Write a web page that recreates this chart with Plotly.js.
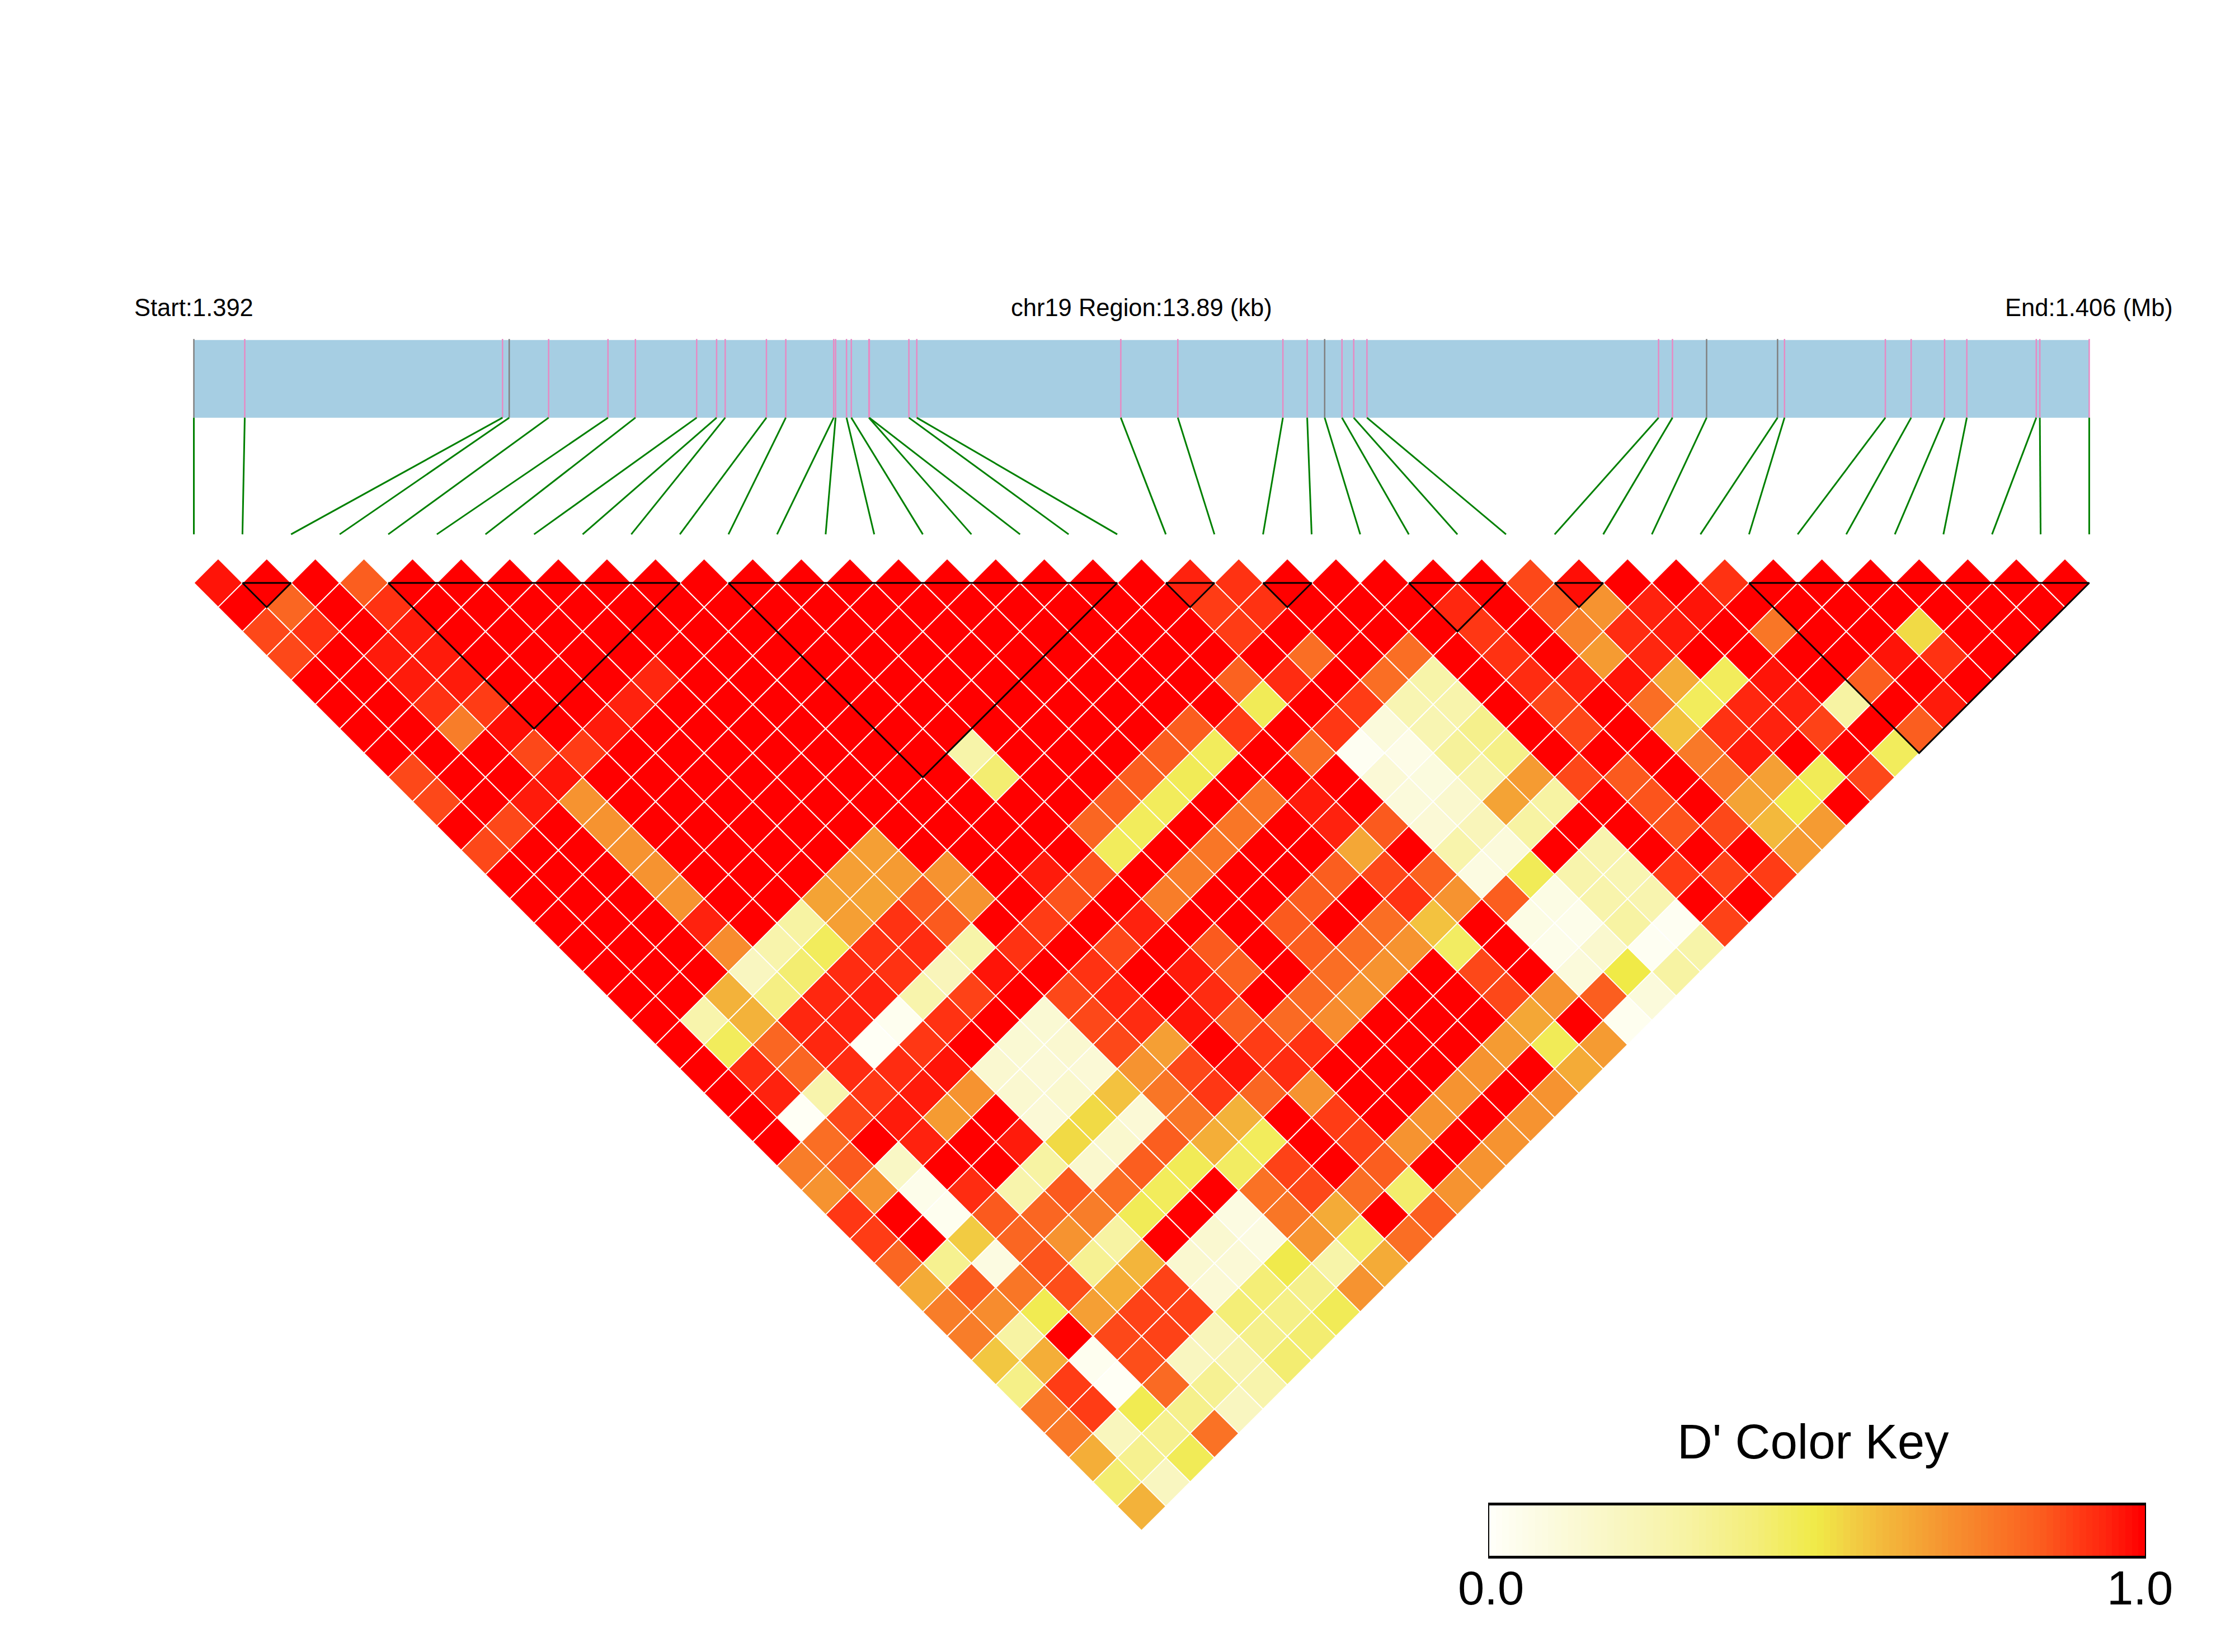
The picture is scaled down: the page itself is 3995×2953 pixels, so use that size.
<!DOCTYPE html>
<html><head><meta charset="utf-8">
<script src="https://cdn.plot.ly/plotly-3.0.1.min.js"></script>
<style>html,body{margin:0;padding:0;background:#fff}</style></head>
<body><div id="plot" style="width:3995px;height:2953px"></div>
<script>
// SNP positions along the region, kb from the region start
const snpPosKb = [0,.373,2.262,2.311,2.600,3.035,3.236,3.685,3.831,3.894,4.196,4.338,4.689,4.703,4.783,4.818,4.947,4.950,5.240,5.298,
  6.793,7.211,7.981,8.159,8.287,8.414,8.500,8.597,10.734,10.836,11.086,11.606,11.657,12.396,12.585,12.830,12.993,13.502,13.528,13.890];
const regionKb = 13.89;
const greySnps = [0,3,24,30,31];
// LD blocks as [first SNP, last SNP]
const ldBlocks = [[1,2],[4,10],[11,19],[20,21],[22,23],[25,27],[28,29],[32,39]];
// D' values: ldRows[k][p] is the pair of SNP p and SNP p+k+1
const ldRows = [
[.97,1,1,.84,1,1,1,1,1,1,1,1,1,1,1,1,1,1,1,1,.95,.92,1,1,1,1,1,.88,.98,1,1,.92,1,1,1,1,1,1,1],
[1,.82,1,.92,1,1,1,1,1,1,1,1,1,1,1,1,1,1,1,1,.90,.92,1,1,1,.94,1,.85,.70,.95,.97,1,1,1,1,1,1,1],
[.88,.92,1,.96,1,1,1,1,1,1,1,1,1,1,1,1,1,1,1,1,.9,1,1,1,1,.91,1,.75,.93,.96,1,.78,1,1,.53,1,1],
[.88,1,.96,.96,1,1,1,1,1,1,1,1,1,1,1,1,1,1,1,1,1,.8,1,.8,1,.92,1,.68,.94,1,1,1,1,.97,.92,1],
[1,1,.96,.96,1,1,1,.94,1,1,1,1,1,1,1,1,1,1,1,.83,.93,1,.8,.28,1,.93,.95,.97,.64,.46,.97,1,.84,1,1],
[1,1,.92,.9,1,1,.95,1,1,1,1,1,1,1,1,1,1,1,1,.47,1,.9,.25,.27,1,.88,1,.8,.46,.94,.95,.3,1,.96],
[1,1,.76,.98,1,.96,1,1,1,1,1,1,1,1,1,1,1,.84,.9,1,.91,.1,.25,.36,1,.88,1,.58,.92,.95,.89,1,.84],
[1,1,1,.88,.9,1,1,1,1,1,1,1,.28,1,1,1,.84,.46,1,.8,.02,.06,.32,.37,1,1,1,.77,.96,1,1,.46],
[.88,1,1,.97,1,1,1,1,1,1,1,1,.42,1,1,.84,.47,1,1,1,.12,.09,.27,.68,.88,.85,1,.78,.67,.47,.88],
[.88,1,.96,.7,1,1,1,1,1,1,1,1,1,1,.84,.46,1,.78,.96,1,.1,.15,.66,.3,1,.86,1,.66,.49,1],
[1,.88,1,.7,1,1,1,1,1,1,1,1,1,.82,.46,1,.78,1,.95,.85,.12,.22,.3,1,1,.86,.88,.6,.68],
[.88,1,1,.7,1,1,1,1,.67,1,1,1,1,.46,1,.78,1,1,.65,1,.27,.1,1,.26,1,1,1,.68],
[1,1,1,.7,1,1,1,.67,.68,.7,1,.96,.86,1,.76,1,1,.84,.88,.83,.08,.47,.27,.25,.9,.89,.9],
[1,1,1,.7,1,1,.66,.66,.85,.7,1,.86,1,.76,1,1,.84,1,.92,.7,.84,.07,.27,.26,1,1],
[1,1,1,.95,1,.3,.67,.92,.85,1,.9,1,.95,1,1,.85,1,.8,.58,1,.07,.05,.3,.02,.89],
[1,1,1,.72,.27,.46,.92,.93,.28,.92,1,.88,1,.85,1,.84,.8,.7,.45,1,.05,.15,.02,.28],
[1,1,1,.2,.42,.93,.92,.22,.97,1,.92,1,.96,.83,1,.8,.7,1,.88,1,.1,.5,.3],
[1,1,.62,.38,.94,.95,.27,.89,1,.88,.94,1,.93,1,.81,.7,1,1,.88,.7,.84,.1],
[1,.27,.62,.94,.95,.03,.92,1,.13,.88,.93,.97,.84,.81,.72,1,1,1,.65,1,.03],
[1,.46,.82,.94,.01,.91,1,.13,.14,.88,.67,1,.9,.92,1,1,1,.68,.47,.68],
[1,.93,.82,.93,.93,.97,.14,.12,.12,.7,.88,.97,.93,1,1,1,.7,1,.64],
[1,.95,.27,.91,.96,.7,.14,.15,.58,.78,.91,.82,.7,1,1,.7,1,.7],
[1,.01,.88,.96,.68,1,.12,.53,.12,.78,.62,1,.9,1,.7,1,.7],
[1,.8,1,.95,1,.96,.53,.15,.84,.63,.46,1,.89,.7,1,.7],
[.76,.85,.18,1,1,.3,.15,.84,.47,.45,.89,1,.84,1,.7],
[.7,.7,.05,.93,.27,.85,.8,.46,1,.79,.88,.8,.43,.7],
[.91,1,.03,.85,.82,.76,.47,1,.08,.78,.64,1,.84],
[.9,1,.56,.82,.7,.3,1,.14,.08,.7,.43,.8],
[.82,.35,.08,.86,.34,.61,.14,.12,.49,.28,.64],
[.64,.84,.78,.87,.63,.89,.12,.41,.36,.7],
[.76,.72,.48,.67,.89,.89,.41,.37,.47],
[.76,.3,1,.88,.89,.22,.36,.42],
[.57,.63,.03,.87,.2,.26,.42],
[.37,.9,.01,.81,.34,.27],
[.77,.9,.48,.36,.2],
[.77,.21,.35,.79],
[.63,.35,.47],
[.42,.2],
[.62]
];
const colorStops = [[0,'#FFFFF8'],[.1,'#FBFADB'],[.2,'#F9F6C0'],[.3,'#F7F3A3'],[.4,'#F4EE7C'],[.5,'#F0EA47'],[.55,'#F2D044'],[.6,'#F3B93C'],
  [.65,'#F4A736'],[.7,'#F69330'],[.75,'#F8812A'],[.8,'#FA6E24'],[.85,'#FB5A1E'],[.9,'#FF3C15'],[.95,'#FF220E'],[1,'#FF0000']];
const keyTicks = ['0.0','1.0'];
const labels = {start:'Start:1.392', mid:'chr19 Region:13.89 (kb)', end:'End:1.406 (Mb)', key:"D' Color Key"};

const hex = c => [1,3,5].map(i => parseInt(c.substr(i,2),16));
function colorOf(v){
  for(let i=1;i<colorStops.length;i++){
    if(v<=colorStops[i][0]){
      const [a,ca]=colorStops[i-1],[b,cb]=colorStops[i],t=(v-a)/(b-a),A=hex(ca),B=hex(cb);
      return 'rgb('+A.map((x,j)=>Math.round(x+(B[j]-x)*t)).join(',')+')';
    }
  }
  return '#FF0000';
}
const nSnp = snpPosKb.length, last = nSnp-1;
const traces = [];
// gene region bar
const barTop=5.0, barBot=3.4, connBot=1.0;
traces.push({x:[0,last,last,0,0],y:[barBot,barBot,barTop,barTop,barBot],mode:'lines',fill:'toself',fillcolor:'#A6CEE3',line:{width:0},hoverinfo:'skip'});
// SNP ticks and connectors
const tick = (idx,col)=>{const x=[],y=[];idx.forEach(i=>{const u=snpPosKb[i]/regionKb*last;x.push(u,u,null);y.push(barBot,barTop+.02,null);});
  traces.push({x,y,mode:'lines',line:{color:col,width:2.5},hoverinfo:'skip'});};
const all=[...Array(nSnp).keys()];
tick(all.filter(i=>!greySnps.includes(i)),'#E78AC3');
tick(greySnps,'#808080');
{const x=[],y=[];all.forEach(i=>{x.push(snpPosKb[i]/regionKb*last,i,null);y.push(barBot,connBot,null);});
 traces.push({x,y,mode:'lines',line:{color:'#008000',width:3},hoverinfo:'skip'});}
// LD cells grouped by value
const groups=new Map();
ldRows.forEach((row,k)=>row.forEach((v,p)=>{
  const cx=p+.5+k/2, cy=-k/2;
  if(!groups.has(v))groups.set(v,{x:[],y:[]});
  const g=groups.get(v);
  g.x.push(cx-.5,cx,cx+.5,cx,cx-.5,null);
  g.y.push(cy,cy+.5,cy,cy-.5,cy,null);
}));
groups.forEach((g,v)=>traces.push({x:g.x,y:g.y,mode:'lines',fill:'toself',fillcolor:colorOf(v),line:{color:'#FFFFFF',width:1.8},hoverinfo:'skip',name:String(v)}));
// LD blocks
{const x=[],y=[];ldBlocks.forEach(([a,b])=>{x.push(a,b,(a+b)/2,a,null);y.push(0,0,-(b-a)/2,0,null);});
 traces.push({x,y,mode:'lines',line:{color:'#000000',width:3},hoverinfo:'skip'});}
// colour key
const keyVals=[...Array(100).keys()].map(i=>i/99);
const scale=colorStops.map(([v,c])=>[v,c]);
traces.push({type:'heatmap',x:keyVals.map((v,i)=>(i+.5)/100),y:[0],z:[keyVals],zmin:0,zmax:1,colorscale:scale,showscale:false,xaxis:'x2',yaxis:'y2',hoverinfo:'skip'});

const font='"Liberation Sans",Arial,sans-serif';
const W=3995,H=2953,U=86.87;
const anno=(text,x,size,y)=>({text,xref:'x',yref:'y',x,y:(1042-y)/U,showarrow:false,xanchor:'center',yanchor:'middle',font:{family:font,size,color:'#000'}});
const layout={width:W,height:H,margin:{l:0,r:0,t:0,b:0,pad:0},paper_bgcolor:'#fff',plot_bgcolor:'#fff',showlegend:false,
  xaxis:{visible:false,domain:[0,1],range:[-346.5/U,(W-346.5)/U],fixedrange:true},
  yaxis:{visible:false,domain:[0,1],range:[-(H-1042)/U,1042/U],fixedrange:true},
  xaxis2:{domain:[2662/W,3834/W],anchor:'y2',range:[0,1],showticklabels:false,ticks:'',showgrid:false,zeroline:false,showline:true,mirror:true,linecolor:'#000',linewidth:5,automargin:false},
  yaxis2:{domain:[1-2781/H,1-2691/H],anchor:'x2',range:[-.5,.5],showticklabels:false,ticks:'',showgrid:false,zeroline:false,showline:true,mirror:true,linecolor:'#000',linewidth:2,automargin:false},
  annotations:[
   anno(labels.start,0,43.5,550),
   anno(labels.mid,last/2,43.5,550),
   anno(labels.end,last,43.5,550),
   {text:labels.key,xref:'paper',yref:'paper',x:3241/W,y:1-2576/H,showarrow:false,xanchor:'center',yanchor:'middle',font:{family:font,size:87,color:'#000'}},
   {text:keyTicks[0],xref:'x2',yref:'paper',x:0,xshift:3,y:1-2838/H,showarrow:false,xanchor:'center',yanchor:'middle',font:{family:font,size:85,color:'#000'}},
   {text:keyTicks[1],xref:'x2',yref:'paper',x:1,xshift:-9,y:1-2838/H,showarrow:false,xanchor:'center',yanchor:'middle',font:{family:font,size:85,color:'#000'}}
  ]};
Plotly.newPlot('plot',traces,layout,{staticPlot:true,displayModeBar:false});
</script></body></html>
